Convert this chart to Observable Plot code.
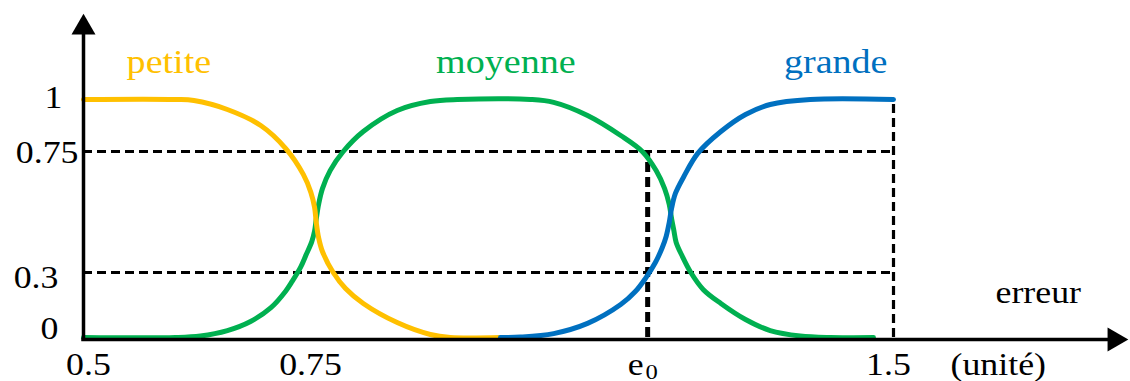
<!DOCTYPE html>
<html><head><meta charset="utf-8">
<script src="https://cdn.jsdelivr.net/npm/d3@7"></script>
<script src="https://cdn.jsdelivr.net/npm/@observablehq/plot@0.6"></script>
<style>body{margin:0;background:#fff}</style>
</head><body><div id="chart"></div>
<script>
// ---------- data ----------
const yTicks = [1, 0.75, 0.3, 0];
const yTickLabels = ["1", "0.75", "0.3", "0"];
const e0 = 1.181;
const seriesNames = ["petite", "moyenne", "grande"];
const seriesColors = ["#FFC000", "#00B050", "#0070C0"];
// [erreur, degré d'appartenance]
const petite = [[0.5,1],[0.599,1],[0.619,0.995],[0.655,0.952],[0.691,0.875],[0.718,0.764],[0.737,0.664],[0.745,0.598],[0.749,0.542],[0.751,0.486],[0.754,0.43],[0.759,0.378],[0.773,0.3],[0.789,0.226],[0.812,0.157],[0.856,0.069],[0.899,0.014],[0.925,0],[0.99,0]];
const moyenne = [[0.5,0],[0.599,0],[0.626,0.007],[0.655,0.032],[0.68,0.074],[0.702,0.138],[0.718,0.215],[0.725,0.26],[0.734,0.32],[0.74,0.367],[0.746,0.415],[0.749,0.454],[0.751,0.499],[0.754,0.553],[0.759,0.612],[0.769,0.679],[0.786,0.75],[0.812,0.846],[0.856,0.947],[0.899,0.99],[0.934,1],[1.029,1],[1.059,0.986],[1.103,0.923],[1.146,0.827],[1.174,0.75],[1.192,0.679],[1.203,0.612],[1.209,0.553],[1.212,0.501],[1.215,0.456],[1.218,0.412],[1.226,0.36],[1.237,0.3],[1.253,0.222],[1.276,0.157],[1.308,0.083],[1.34,0.032],[1.379,0.007],[1.418,0],[1.474,0]];
const grande = [[0.99,0],[1.016,0.002],[1.059,0.018],[1.103,0.065],[1.146,0.152],[1.165,0.212],[1.178,0.272],[1.191,0.337],[1.2,0.393],[1.205,0.434],[1.209,0.486],[1.212,0.538],[1.217,0.594],[1.228,0.657],[1.246,0.743],[1.276,0.846],[1.308,0.928],[1.34,0.976],[1.392,1],[1.5,1]];
const seriesLabelX = [0.592, 0.997, 1.425];

// ---------- layout (schematic, piecewise-linear axes) ----------
const W = 1130, H = 381;
const sx = d3.scaleLinear().domain([0.5, 0.75, 1.5]).range([83, 315, 893]);
const sy = d3.scaleLinear().domain([0, 0.3, 0.75, 1]).range([337, 272, 151, 99]);
const font = "Liberation Serif";
const textStretch = 1.12;

function label(text, x, y, o = {}) {
  return Plot.text([text], {x: [x], y: [y], text: d => d, fontFamily: font,
    fontSize: o.fontSize ?? 32, fill: o.fill ?? "black", textAnchor: o.anchor ?? "middle",
    lineAnchor: "bottom", dx: o.dx ?? 0, dy: o.dy ?? 0});
}

const yLabelOffsets = {"1": [-21, 8], "0.75": [-5, 11], "0.3": [-25, 15], "0": [-25, 1]};

const dash = "9,5";
const marks = [
  Plot.ruleY([0.75, 0.3], {x1: 0.5, x2: 1.5, stroke: "black", strokeWidth: 3.2, strokeDasharray: dash}),
  Plot.ruleX([1.5], {y1: 0, y2: 1, stroke: "black", strokeWidth: 3.2, strokeDasharray: dash}),
  Plot.ruleX([e0], {y1: 0, y2: 0.75, stroke: "black", strokeWidth: 5, strokeDasharray: "10,5"}),
  Plot.line(moyenne, {x: d => d[0], y: d => d[1], stroke: seriesColors[1], strokeWidth: 5, curve: "catmull-rom"}),
  Plot.line(petite, {x: d => d[0], y: d => d[1], stroke: seriesColors[0], strokeWidth: 5, curve: "catmull-rom"}),
  Plot.line(grande, {x: d => d[0], y: d => d[1], stroke: seriesColors[2], strokeWidth: 5, curve: "catmull-rom"}),
  Plot.ruleX([0.5], {y1: sy.invert(341), y2: sy.invert(30), stroke: "black", strokeWidth: 3.5}),
  Plot.ruleY([0], {x1: sx.invert(81.3), x2: sx.invert(1112), dy: 2, stroke: "black", strokeWidth: 3.5}),
  Plot.dot([0], {x: 0.5, y: sy.invert(27), symbol: "triangle", r: 8.9, fill: "black", stroke: "none"}),
  Plot.dot([0], {x: sx.invert(1114), y: 0, dy: 2, symbol: "triangle", r: 8.9, rotate: 90, fill: "black", stroke: "none"}),
  ...yTicks.map((v, i) => label(yTickLabels[i], 0.5, v, {anchor: "end", dx: yLabelOffsets[yTickLabels[i]][0], dy: yLabelOffsets[yTickLabels[i]][1]})),
  label("0.5", 0.5, 0, {dx: 5, dy: 37}),
  label("0.75", 0.75, 0, {dx: -5, dy: 37}),
  label("e", e0, 0, {dx: -12, dy: 37}),
  label("0", e0, 0, {dx: 4, dy: 41, fontSize: 22}),
  label("1.5", 1.5, 0, {dx: -5, dy: 37}),
  label("(unité)", 1.5, 0, {anchor: "start", dx: 57, dy: 37}),
  label("erreur", 1.5, 0, {anchor: "start", dx: 102, dy: -35}),
  ...seriesNames.map((n, i) => label(n, seriesLabelX[i], 1, {fill: seriesColors[i], fontSize: 34, dy: -27}))
];

const chart = Plot.plot({
  width: W, height: H, margin: 0,
  x: {type: "linear", transform: sx, domain: [0, W], range: [0, W], axis: null},
  y: {type: "linear", transform: sy, domain: [0, H], range: [0, H], axis: null},
  style: {background: "#fff", overflow: "visible"},
  marks
});
// widen the glyphs slightly (Times-like face in the reference is broader)
chart.querySelectorAll("text").forEach(t => {
  const tr = t.getAttribute("transform");
  if (tr && tr.includes("translate")) {
    t.setAttribute("transform", tr + ` scale(${textStretch},1)`);
  } else {
    const x = +(t.getAttribute("x") || 0), y = +(t.getAttribute("y") || 0);
    t.setAttribute("transform", `translate(${x},${y}) scale(${textStretch},1) translate(${-x},${-y})` + (tr ? " " + tr : ""));
  }
});
document.getElementById("chart").appendChild(chart);
</script>
</body></html>
